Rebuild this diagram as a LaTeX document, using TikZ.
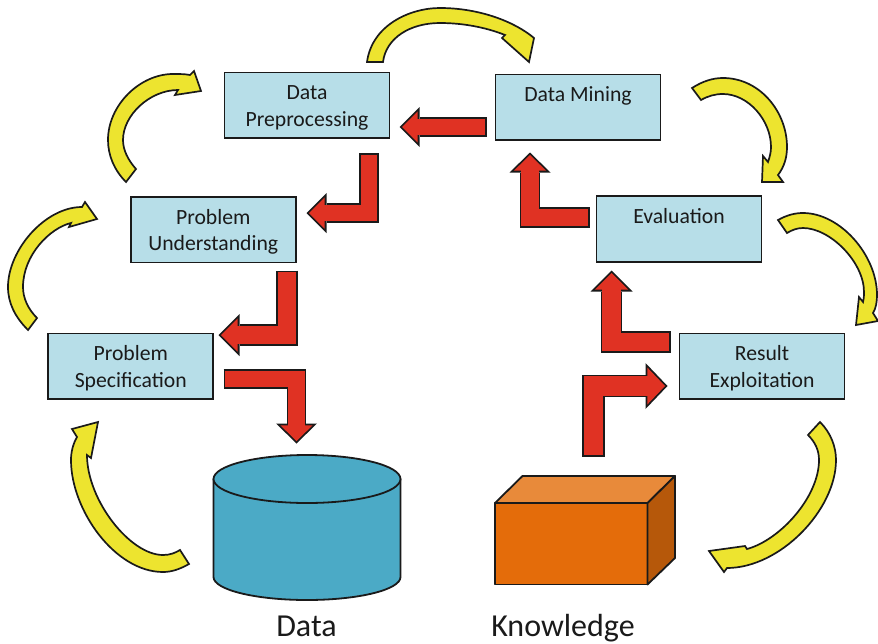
\documentclass[tikz,border=0pt]{standalone}
\usepackage{fontspec}
\setmainfont{Carlito}
\usetikzlibrary{arrows.meta}
\definecolor{boxblue}{RGB}{183,222,232}
\definecolor{cylblue}{RGB}{75,170,198}
\definecolor{arrred}{RGB}{224,50,35}
\definecolor{arryel}{RGB}{237,228,47}
\definecolor{orfront}{RGB}{228,108,10}
\definecolor{ortop}{RGB}{232,138,58}
\definecolor{orside}{RGB}{182,88,10}
\definecolor{ink}{RGB}{26,26,26}
\newcommand{\firststrut}{\rule{0pt}{23.1pt}}
\newcommand{\laststrut}{\rule[-8pt]{0pt}{8pt}}
\tikzset{
  stepbox/.style={draw=ink,line width=1.9pt,fill=boxblue,minimum width=165pt,minimum height=65.5pt,
    inner sep=0pt,align=center,font=\fontsize{21.7}{26.5}\selectfont,text=ink},
  cyclearrow/.style={draw=ink,line width=1.7pt,fill=arryel,line join=miter,miter limit=6},
  solid3d/.style={draw=ink,line width=1.8pt,line join=round},
  caption/.style={font=\fontsize{32}{36}\selectfont,text=ink,anchor=base,inner sep=0pt}
}
% block connector: width, head length, head width, path
\newcommand{\blockconn}[4]{%
  \pgfmathsetmacro{\bcLr}{#2-4.3}%
  \pgfmathsetmacro{\bcWr}{#3*(#2-4.3)/#2}%
  \pgfmathsetmacro{\bcOut}{#1+1.8}%
  \pgfmathsetmacro{\bcIn}{#1-1.8}%
  \pgfmathsetmacro{\bcShaft}{#2-5}%
  \draw[ink,line width=\bcOut pt,line join=miter,
    -{Triangle[length=#2pt,width=#3pt,line width=0pt]}] #4;
  \draw[arrred,line width=\bcIn pt,line join=miter,shorten <=1.8pt,shorten >=2.5pt,
    -{Triangle[length=\bcLr pt,width=\bcWr pt,line width=0pt]}] #4;
  \draw[arrred,line width=\bcIn pt,line join=miter,shorten <=1.8pt,shorten >=\bcShaft pt] #4;
}
\begin{document}
\begin{tikzpicture}[x=1pt,y=-1pt]
\useasboundingbox (0,0) rectangle (878,643);

% process steps
\node[stepbox] (prep) at (307,105.25) {\firststrut Data\\Preprocessing\laststrut};
\node[stepbox] (under) at (213.25,229.75) {\firststrut Problem\\Understanding\laststrut};
\node[stepbox] (spec) at (130.75,366.25) {\firststrut Problem\\Specification\laststrut};
\node[stepbox] (mining) at (578,107.25) {\firststrut Data Mining\\\laststrut};
\node[stepbox] (eval) at (679,229) {\firststrut Evaluation\\\laststrut};
\node[stepbox] (result) at (762,366.25) {\firststrut Result\\Exploitation\laststrut};

% data cylinder
\draw[solid3d,fill=cylblue] (213.5,479) -- (213.5,577)
  arc[start angle=180,end angle=360,x radius=93.5,y radius=-23]
  -- (400.5,479) -- cycle;
\draw[solid3d,fill=cylblue] (307,479) ellipse[x radius=93.5,y radius=24];
\node[caption] (datalabel) at (306.5,636) {Data};

% knowledge box
\draw[solid3d,fill=orfront] (495,503) rectangle (647.5,584.5);
\draw[solid3d,fill=ortop] (495,503) -- (522.5,476) -- (675,476) -- (647.5,503) -- cycle;
\draw[solid3d,fill=orside] (647.5,503) -- (675,476) -- (675,558) -- (647.5,584.5) -- cycle;
\node[caption] (knowlabel) at (563,636) {Knowledge};

% anchors of the block connectors
\coordinate (c1s) at (486.5,127);   \coordinate (c1e) at (399.5,127);
\coordinate (c2s) at (369,153);     \coordinate (c2e) at (306.5,213);
\coordinate (c3s) at (287,270.5);   \coordinate (c3e) at (218.5,335);
\coordinate (c4s) at (223.5,379);   \coordinate (c4e) at (296.5,443.5);
\coordinate (c5s) at (593.5,456.5); \coordinate (c5e) at (667.5,386);
\coordinate (c6s) at (670.5,342);   \coordinate (c6e) at (611.5,270.5);
\coordinate (c7s) at (589.5,217.5); \coordinate (c7e) at (530,152.5);

\blockconn{18}{20}{40}{(c1s) -- (c1e)}
\blockconn{18}{20}{40}{(c2s) |- (c2e)}
\blockconn{20}{21}{42}{(c3s) |- (c3e)}
\blockconn{18}{20}{41}{(c4s) -| (c4e)}
\blockconn{21}{22}{46}{(c5s) |- (c5e)}
\blockconn{20}{21}{42}{(c6s) -| (c6e)}
\blockconn{19}{20}{41}{(c7s) -| (c7e)}

% cycle arrows
\draw[cyclearrow] (367,62) .. controls (372,25) and (410,8) .. (440,8)
  .. controls (480,8) and (515,22) .. (534,38)
  -- (529,62) -- (502,38) -- (505,35)
  .. controls (485,27) and (462,23) .. (440,23)
  .. controls (410,23) and (386,38) .. (383,62) -- cycle;

\draw[cyclearrow] (692,88) .. controls (703,81) and (713,78) .. (723,78)
  .. controls (760,78) and (787,112) .. (787,147)
  .. controls (787,158) and (784,167) .. (778,175)
  -- (783,182) -- (762,182) -- (763,156) -- (768,162)
  .. controls (770,156) and (771,152) .. (771,147)
  .. controls (771,120) and (748,94) .. (723,94)
  .. controls (715,94) and (708,96) .. (701,100) -- cycle;

\draw[cyclearrow] (778,220) .. controls (787,215) and (795,213) .. (803,213)
  .. controls (840,213) and (877,255) .. (877,295)
  .. controls (877,302) and (876,308) .. (873,313)
  -- (878,321) -- (856,325) -- (859,297) -- (863,302)
  .. controls (864,298) and (864,295) .. (864,292)
  .. controls (864,262) and (830,228) .. (803,228)
  .. controls (797,228) and (792,230) .. (787,233) -- cycle;

\draw[cyclearrow] (820,422) .. controls (831,433) and (836,447) .. (836,460)
  .. controls (836,510) and (780,568) .. (727,568)
  -- (724,572) -- (709,551) -- (745,546) -- (747,549)
  .. controls (780,540) and (819,497) .. (819,460)
  .. controls (819,450) and (815,442) .. (808,435) -- cycle;

\draw[cyclearrow] (189,564) .. controls (180,569) and (172,572) .. (163,572)
  .. controls (115,572) and (71,510) .. (71,460)
  .. controls (71,452) and (73,444) .. (77,437)
  -- (72,429) -- (98,422) -- (91,458) -- (87,455)
  .. controls (87,500) and (130,555) .. (163,555)
  .. controls (170,555) and (175,553) .. (180,550) -- cycle;

\draw[cyclearrow] (28,330) .. controls (15,317) and (8,303) .. (8,287)
  .. controls (8,250) and (45,207) .. (82,207)
  -- (85,202) -- (97,219) -- (69,227) -- (71,223)
  .. controls (50,228) and (23,255) .. (23,287)
  .. controls (23,298) and (28,309) .. (37,318) -- cycle;

\draw[cyclearrow] (126,182) .. controls (114,170) and (108,155) .. (108,140)
  .. controls (108,105) and (140,74) .. (173,74)
  .. controls (180,74) and (185,74) .. (190,75)
  -- (194,71) -- (201,91) -- (175,95) -- (178,90)
  .. controls (150,90) and (123,115) .. (123,140)
  .. controls (123,150) and (128,160) .. (136,169) -- cycle;
\end{tikzpicture}
\end{document}
